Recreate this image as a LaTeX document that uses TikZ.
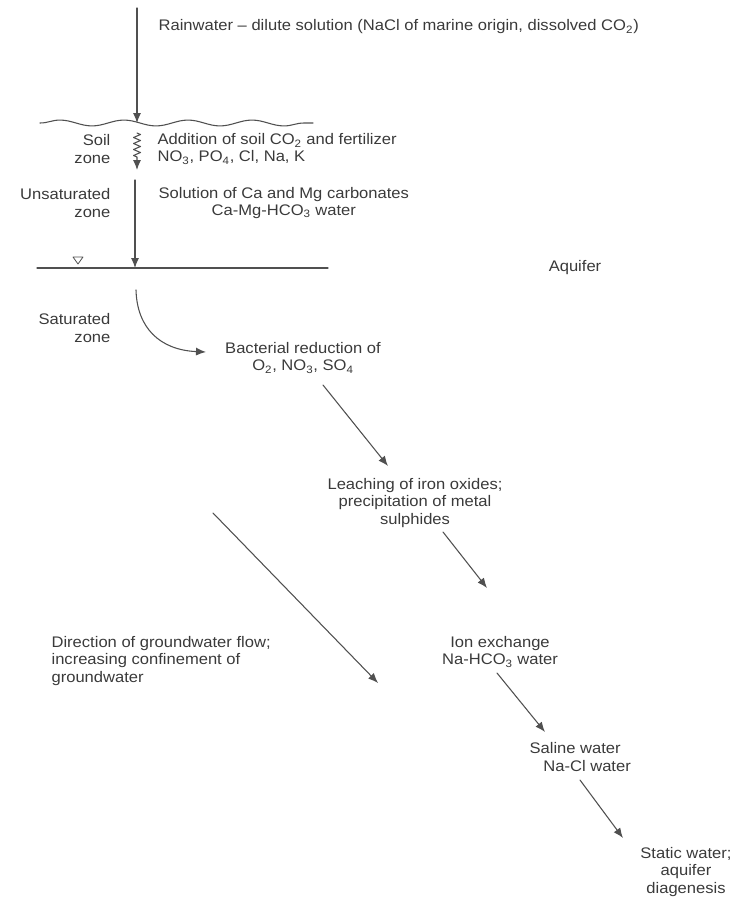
\documentclass[tikz,border=0pt]{standalone}
\usepackage{fontspec}
\setmainfont[FakeStretch=1.08]{Liberation Sans}
\usetikzlibrary{arrows.meta,decorations.pathmorphing}
\definecolor{ink}{HTML}{3A3A3A}
\definecolor{wire}{HTML}{505050}
\begin{document}
\begin{tikzpicture}[x=0.75pt,y=-0.75pt,line cap=round,line join=round,
  >={Latex[length=7.5pt,width=6pt]},
  lbl/.style={text=ink,inner sep=1pt,font=\fontsize{11.5}{12.8}\selectfont},
  flow/.style={draw=wire,line width=0.8pt,->}]
  \useasboundingbox (0,0) rectangle (744,903);
  % ground surface and water table
  \draw[wire,line width=0.8pt,decorate,decoration={snake,segment length=48pt,amplitude=2.2pt}] (40,123) -- (313,123);
  \draw[wire,line width=0.8pt] (37,268) -- (328,268);
  \draw[wire,line width=0.6pt] (73,257) -- (83,257) -- (78,264) -- cycle;
  % labels
  \node[lbl,anchor=west] (rain) at (157,27) {Rainwater -- dilute solution (NaCl of marine origin, dissolved CO\textsubscript{2})};
  \node[lbl,anchor=east,align=right] (soil) at (112,149) {Soil\\zone};
  \node[lbl,anchor=west,align=left] (addn) at (156,149) {Addition of soil CO\textsubscript{2} and fertilizer\\NO\textsubscript{3}, PO\textsubscript{4}, Cl, Na, K};
  \node[lbl,anchor=east,align=right] (unsat) at (112,203) {Unsaturated\\zone};
  \node[lbl,anchor=west,align=center] (soln) at (157,203) {Solution of Ca and Mg carbonates\\Ca-Mg-HCO\textsubscript{3} water};
  \node[lbl] (aquifer) at (575,268) {Aquifer};
  \node[lbl,anchor=east,align=right] (sat) at (112,328) {Saturated\\zone};
  \node[lbl,align=center] (bact) at (303,358) {Bacterial reduction of\\O\textsubscript{2}, NO\textsubscript{3}, SO\textsubscript{4}};
  \node[lbl,align=center] (leach) at (415,503) {Leaching of iron oxides;\\precipitation of metal\\sulphides};
  \node[lbl,anchor=west,align=left] (dirn) at (50,661) {Direction of groundwater flow;\\increasing confinement of\\groundwater};
  \node[lbl,align=center] (ion) at (500,652) {Ion exchange\\Na-HCO\textsubscript{3} water};
  \node[lbl,anchor=west,align=left] (saline) at (528,757) {Saline water\\\hspace*{0.9em}Na-Cl water};
  \node[lbl,align=center] (static) at (686,872) {Static water;\\aquifer\\diagenesis};
  % arrow ends
  \coordinate (rainTop) at (137,8);
  \coordinate (surf) at (137,123);
  \coordinate (soilTop) at (137,133);
  \coordinate (soilEnd) at (137,170);
  \coordinate (unsatTop) at (135,180);
  \coordinate (wt) at (135,268);
  \coordinate (satTop) at (136,290);
  \coordinate (bactIn) at (206,352);
  \coordinate (bactOut) at (323,385);
  \coordinate (leachIn) at (388,466);
  \coordinate (leachOut) at (443,532);
  \coordinate (ionIn) at (487,588);
  \coordinate (ionOut) at (497,673);
  \coordinate (salIn) at (545,732);
  \coordinate (salOut) at (580,780);
  \coordinate (statIn) at (623,838);
  \coordinate (dirTop) at (213,513);
  \coordinate (dirEnd) at (378,683);
  % arrows
  \draw[flow] (rainTop) -- (surf);
  \draw[flow,decorate,decoration={zigzag,segment length=4.5pt,amplitude=2.6pt,post length=8pt}] (soilTop) -- (soilEnd);
  \draw[flow] (unsatTop) -- (wt);
  \draw[flow] (satTop) .. controls (137,328) and (160,350) .. (bactIn);
  \draw[flow] (bactOut) -- (leachIn);
  \draw[flow] (leachOut) -- (ionIn);
  \draw[flow] (ionOut) -- (salIn);
  \draw[flow] (salOut) -- (statIn);
  \draw[flow] (dirTop) -- (dirEnd);
\end{tikzpicture}
\end{document}
